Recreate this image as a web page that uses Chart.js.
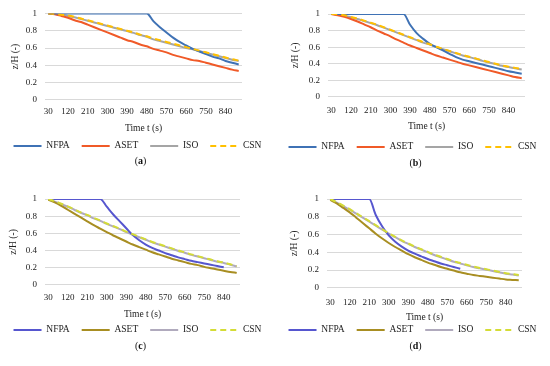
<!DOCTYPE html>
<html lang="en">
<head>
  <meta charset="UTF-8">
  <title>z/H vs time</title>
  <script src="https://cdn.jsdelivr.net/npm/chart.js"></script>
  <style>
    body { margin: 0; background: #fff; }
    #wrap { position: relative; width: 550px; height: 366px; }
    .panel { position: absolute; width: 275px; height: 183px; }
    .box { position: absolute; left: 0; top: 0; width: 275px; height: 183px; }
    .cap { position: absolute; left: 3px; width: 275px; text-align: center;
           font: 10px "Liberation Serif", serif; color: #111; }
  </style>
</head>
<body>
  <div id="wrap">
    <div class="panel" style="left:0;top:0"><div class="box"><canvas id="ca"></canvas></div><div class="cap" style="top:155px">(<b>a</b>)</div></div>
    <div class="panel" style="left:275px;top:0"><div class="box"><canvas id="cb"></canvas></div><div class="cap" style="top:157px">(<b>b</b>)</div></div>
    <div class="panel" style="left:0;top:183px"><div class="box"><canvas id="cc"></canvas></div><div class="cap" style="top:157px">(<b>c</b>)</div></div>
    <div class="panel" style="left:275px;top:183px"><div class="box"><canvas id="cd"></canvas></div><div class="cap" style="top:157px">(<b>d</b>)</div></div>
  </div>

  <script>
    // time categories (s), labelled every third one
    const times = [30, 60, 90, 120, 150, 180, 210, 240, 270, 300, 330, 360, 390, 420, 450,
                   480, 510, 540, 570, 600, 630, 660, 690, 720, 750, 780, 810, 840, 870, 900];
    const yTicks = [0, 0.2, 0.4, 0.6, 0.8, 1];
    const seriesNames = ['NFPA', 'ASET', 'ISO', 'CSN'];

    // (a)
    const aNfpa = [1, 1, 1, 1, 1, 1, 1, 1, 1, 1, 1, 1, 1, 1, 1, 1,
                   0.91, 0.84, 0.78, 0.72, 0.67, 0.63, 0.59, 0.56, 0.53, 0.50, 0.48, 0.45, 0.43, 0.41];
    const aAset = [1.00, 0.99, 0.97, 0.95, 0.92, 0.90, 0.87, 0.84, 0.81, 0.78, 0.75, 0.72, 0.69, 0.67, 0.64,
                   0.62, 0.59, 0.57, 0.55, 0.52, 0.50, 0.48, 0.46, 0.45, 0.43, 0.41, 0.39, 0.37, 0.35, 0.335];
    const aIso = [1.00, 0.995, 0.985, 0.97, 0.955, 0.935, 0.915, 0.895, 0.875, 0.855, 0.835, 0.815, 0.795, 0.775, 0.75,
                  0.73, 0.70, 0.68, 0.66, 0.64, 0.62, 0.60, 0.585, 0.565, 0.545, 0.525, 0.505, 0.485, 0.465, 0.45];
    const aCsn = [1.00, 0.995, 0.985, 0.975, 0.96, 0.94, 0.92, 0.90, 0.88, 0.86, 0.84, 0.82, 0.80, 0.78, 0.755,
                  0.735, 0.71, 0.69, 0.67, 0.65, 0.63, 0.61, 0.59, 0.57, 0.55, 0.53, 0.51, 0.49, 0.47, 0.455];

    // (b)
    const bNfpa = [1, 1, 1, 1, 1, 1, 1, 1, 1, 1, 1, 1,
                   0.87, 0.77, 0.70, 0.64, 0.60, 0.56, 0.52, 0.48, 0.45, 0.43, 0.41, 0.39, 0.37, 0.35, 0.33, 0.31, 0.295, 0.28];
    const bAset = [1.00, 0.985, 0.965, 0.94, 0.91, 0.875, 0.84, 0.80, 0.765, 0.73, 0.69, 0.655, 0.62, 0.59, 0.56,
                   0.53, 0.50, 0.475, 0.45, 0.425, 0.40, 0.38, 0.36, 0.34, 0.32, 0.30, 0.28, 0.26, 0.24, 0.225];
    const bIso = [1.00, 0.995, 0.98, 0.96, 0.94, 0.915, 0.89, 0.865, 0.835, 0.805, 0.775, 0.745, 0.715, 0.685, 0.655,
                  0.63, 0.60, 0.575, 0.55, 0.525, 0.50, 0.48, 0.46, 0.435, 0.415, 0.395, 0.375, 0.36, 0.345, 0.33];
    const bCsn = [1.00, 0.995, 0.985, 0.965, 0.945, 0.92, 0.895, 0.87, 0.84, 0.81, 0.78, 0.75, 0.72, 0.69, 0.66,
                  0.635, 0.605, 0.58, 0.555, 0.53, 0.505, 0.485, 0.465, 0.44, 0.42, 0.40, 0.38, 0.365, 0.35, 0.335];

    // (c)
    const cNfpa = [1, 1, 1, 1, 1, 1, 1, 1, 1,
                   0.91, 0.82, 0.74, 0.66, 0.58, 0.52, 0.47, 0.43, 0.40, 0.37, 0.345, 0.32, 0.30, 0.28, 0.265, 0.25,
                   0.235, 0.22, 0.205, null, null];
    const cAset = [0.99, 0.96, 0.92, 0.875, 0.83, 0.785, 0.74, 0.695, 0.655, 0.615, 0.575, 0.54, 0.505, 0.47, 0.44,
                   0.41, 0.38, 0.355, 0.33, 0.305, 0.285, 0.265, 0.245, 0.23, 0.21, 0.195, 0.18, 0.165, 0.15, 0.14];
    const cIso = [1.00, 0.97, 0.94, 0.91, 0.875, 0.84, 0.81, 0.775, 0.745, 0.71, 0.68, 0.65, 0.615, 0.585, 0.555,
                  0.525, 0.495, 0.47, 0.445, 0.42, 0.395, 0.375, 0.35, 0.33, 0.31, 0.29, 0.27, 0.255, 0.235, 0.215];
    const cCsn = [1.00, 0.975, 0.945, 0.915, 0.88, 0.845, 0.815, 0.78, 0.75, 0.715, 0.685, 0.655, 0.62, 0.59, 0.56,
                  0.53, 0.50, 0.475, 0.45, 0.425, 0.40, 0.38, 0.355, 0.335, 0.315, 0.295, 0.275, 0.26, 0.24, 0.22];

    // (d)
    const dNfpa = [1, 1, 1, 1, 1, 1, 1,
                   0.82, 0.69, 0.59, 0.52, 0.465, 0.42, 0.385, 0.355, 0.325, 0.30, 0.275, 0.255, 0.235, 0.215,
                   null, null, null, null, null, null, null, null, null];
    const dAset = [0.99, 0.95, 0.90, 0.85, 0.79, 0.73, 0.67, 0.61, 0.555, 0.505, 0.46, 0.42, 0.38, 0.345, 0.315,
                   0.285, 0.26, 0.235, 0.215, 0.195, 0.175, 0.16, 0.145, 0.135, 0.125, 0.115, 0.105, 0.095, 0.09, 0.085];
    const dIso = [1.00, 0.96, 0.92, 0.88, 0.835, 0.79, 0.745, 0.70, 0.655, 0.61, 0.57, 0.53, 0.495, 0.46, 0.43,
                  0.40, 0.37, 0.345, 0.32, 0.295, 0.275, 0.255, 0.235, 0.22, 0.205, 0.19, 0.175, 0.16, 0.15, 0.14];
    const dCsn = [1.00, 0.965, 0.925, 0.885, 0.84, 0.795, 0.75, 0.705, 0.66, 0.615, 0.575, 0.535, 0.50, 0.465, 0.435,
                  0.405, 0.375, 0.35, 0.325, 0.30, 0.28, 0.26, 0.24, 0.225, 0.21, 0.195, 0.18, 0.165, 0.155, 0.145];

    const coloriTop = ['#3f72b5', '#f05a28', '#a5a5a5', '#ffc000'];
    const coloriBot = ['#5656cf', '#a88e22', '#b0aabd', '#d4dc36'];
    const FONT = '"Liberation Serif", serif';
    const TXT = '#222';

    // legend entries keep the dataset's dash and width
    function etichette(chart) {
      const items = Chart.defaults.plugins.legend.labels.generateLabels(chart);
      items.forEach(it => {
        const ds = chart.data.datasets[it.datasetIndex];
        it.lineDash = ds.borderDash;
        it.lineWidth = ds.borderWidth;
        it.strokeStyle = ds.borderColor;
      });
      return items.sort((a, b) => a.datasetIndex - b.datasetIndex);
    }

    // g = geometry of each panel in px (plot box, label rows)
    function creaGrafico(id, serie, colori, g) {
      const legPad = 12, legItemH = 11.4, titleHalf = 5.7, tickHalf = 5.4;
      const xBottom = g.legendY - legPad - legItemH / 2;
      const xHeight = xBottom - g.bottom;
      const padBottom = 183 - xBottom - (legItemH + legPad + 10);

      const datasets = serie.map((vals, i) => ({
        label: seriesNames[i],
        data: vals,
        borderColor: colori[i],
        backgroundColor: colori[i],
        borderWidth: 2,
        borderDash: i === 3 ? [6, 4] : [],
        order: i === 3 ? -1 : i,
        pointRadius: 0,
        cubicInterpolationMode: 'monotone',
        spanGaps: false
      }));

      new Chart(document.getElementById(id), {
        type: 'line',
        data: { labels: times, datasets: datasets },
        options: {
          responsive: true,
          maintainAspectRatio: false,
          animation: false,
          layout: { padding: { top: g.top, bottom: padBottom, left: 0, right: 0 } },
          plugins: {
            tooltip: { enabled: false },
            legend: {
              position: 'bottom',
              labels: {
                usePointStyle: true,
                pointStyle: 'line',
                pointStyleWidth: 28,
                boxHeight: 9,
                padding: legPad,
                color: TXT,
                font: { family: FONT, size: 9.5 },
                generateLabels: etichette
              }
            }
          },
          scales: {
            x: {
              offset: true,
              grid: { display: false, drawTicks: false },
              border: { display: false },
              afterFit: ax => { ax.height = xHeight; },
              ticks: {
                autoSkip: false,
                maxRotation: 0,
                padding: g.labelY - g.bottom - tickHalf,
                color: TXT,
                font: { family: FONT, size: 9 },
                callback: (v, i) => i % 3 === 0 ? String(times[i]) : ''
              },
              title: { display: true, text: 'Time t (s)', color: TXT,
                       padding: { top: 0, bottom: xBottom - titleHalf - g.titleY },
                       font: { family: FONT, size: 9.5 } }
            },
            y: {
              min: 0,
              max: 1,
              afterBuildTicks: ax => { ax.ticks = yTicks.map(v => ({ value: v })); },
              afterFit: ax => { ax.width = g.left; },
              grid: { color: '#d9d9d9', drawTicks: false },
              border: { display: false },
              ticks: {
                autoSkip: false,
                padding: 8,
                color: TXT,
                font: { family: FONT, size: 9 },
                callback: v => String(+v.toFixed(1))
              },
              title: { display: true, text: 'z/H (-)', color: TXT,
                       padding: { top: g.yTitleX - titleHalf, bottom: 0 },
                       font: { family: FONT, size: 9.5 } }
            },
            margine: {
              type: 'linear',
              position: 'right',
              grid: { display: false, drawTicks: false },
              border: { display: false },
              ticks: { display: false },
              afterFit: ax => { ax.width = 275 - g.right; }
            }
          }
        }
      });
    }

    creaGrafico('ca', [aNfpa, aAset, aIso, aCsn], coloriTop,
      { top: 12, bottom: 98, left: 45, right: 242, labelY: 110, titleY: 127, legendY: 145, yTitleX: 15 });
    creaGrafico('cb', [bNfpa, bAset, bIso, bCsn], coloriTop,
      { top: 14, bottom: 95, left: 53, right: 250, labelY: 109, titleY: 125, legendY: 146, yTitleX: 20 });
    creaGrafico('cc', [cNfpa, cAset, cIso, cCsn], coloriBot,
      { top: 16, bottom: 100, left: 45, right: 240, labelY: 113, titleY: 130, legendY: 146, yTitleX: 13 });
    creaGrafico('cd', [dNfpa, dAset, dIso, dCsn], coloriBot,
      { top: 16, bottom: 103, left: 52, right: 247, labelY: 118, titleY: 133, legendY: 146, yTitleX: 19 });
  </script>
</body>
</html>
